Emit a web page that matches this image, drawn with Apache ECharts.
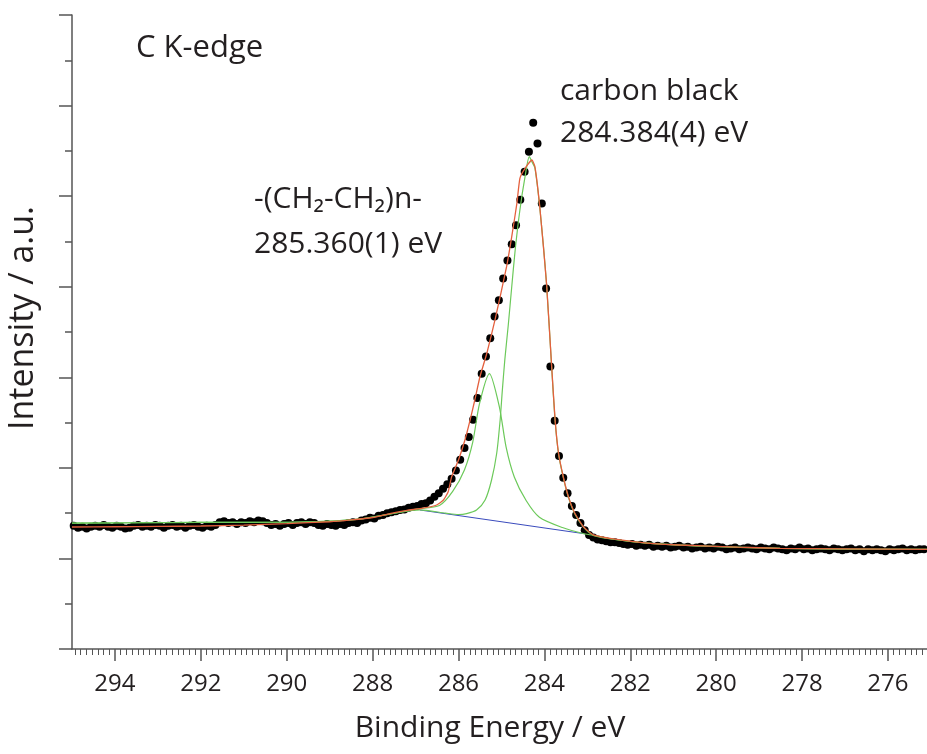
<!DOCTYPE html>
<html>
<head>
<meta charset="utf-8">
<script src="https://cdn.jsdelivr.net/npm/echarts@6/dist/echarts.min.js"></script>
<style>
html,body{margin:0;padding:0;background:#fff;}
#chart{width:927px;height:754px;}
</style>
</head>
<body>
<div id="chart"></div>
<script>
// ---- measured data (binding energy in eV, intensity in a.u.) ----
const highEnergyE = [294.96,294.86,294.76,294.66,294.56,294.46,294.36,294.26,294.16,294.06,
293.96,293.86,293.76,293.66,293.56,293.46,293.36,293.26,293.16,293.06,
292.96,292.86,292.76,292.66,292.56,292.46,292.36,292.26,292.16,292.06,
291.96,291.86,291.76,291.66,291.56,291.46,291.36,291.26,291.16,291.06,
290.96,290.86,290.76,290.66,290.56,290.46,290.36,290.26,290.16,290.06,
289.96,289.86,289.76,289.66,289.56,289.46,289.36,289.26,289.16,289.06,
288.96,288.86,288.76,288.66,288.56,288.46,288.36,288.26,288.16,288.06,
287.96,287.86,287.76,287.66,287.56,287.46,287.36,287.26,287.16,287.06];
const highEnergyI = [1.36,1.34,1.35,1.33,1.35,1.36,1.35,1.37,1.35,1.34,
1.36,1.35,1.33,1.34,1.36,1.37,1.35,1.36,1.35,1.37,
1.36,1.34,1.36,1.37,1.35,1.36,1.34,1.36,1.37,1.35,
1.34,1.36,1.35,1.37,1.40,1.41,1.39,1.40,1.38,1.40,
1.39,1.41,1.40,1.42,1.41,1.39,1.37,1.38,1.36,1.38,
1.39,1.37,1.39,1.40,1.38,1.40,1.39,1.37,1.36,1.38,
1.37,1.36,1.38,1.37,1.39,1.40,1.39,1.42,1.43,1.45,
1.44,1.47,1.48,1.50,1.51,1.52,1.535,1.54,1.56,1.57];
const peakRegionE = [286.96,286.86,286.76,286.66,286.56,286.46,286.36,286.26,286.16,286.06,
285.96,285.86,285.76,285.66,285.56,285.46,285.36,285.26,285.16,285.06,
284.96,284.86,284.76,284.66,284.56,284.46,284.36,284.26,284.16,284.06,
283.96,283.86,283.76,283.66,283.56,283.46,283.36,283.26,283.16,283.06];
const peakRegionI = [1.58,1.60,1.61,1.64,1.68,1.72,1.77,1.82,1.88,1.97,
2.09,2.22,2.34,2.53,2.77,3.04,3.23,3.43,3.67,3.85,
4.09,4.29,4.47,4.68,4.96,5.27,5.49,5.81,5.58,4.92,
3.98,3.12,2.52,2.13,1.89,1.72,1.58,1.48,1.39,1.31];
const lowEnergyE = [282.96,282.86,282.76,282.66,282.56,282.46,282.36,282.26,282.16,282.06,
281.96,281.86,281.76,281.66,281.56,281.46,281.36,281.26,281.16,281.06,
280.96,280.86,280.76,280.66,280.56,280.46,280.36,280.26,280.16,280.06,
279.96,279.86,279.76,279.66,279.56,279.46,279.36,279.26,279.16,279.06,
278.96,278.86,278.76,278.66,278.56,278.46,278.36,278.26,278.16,278.06,
277.96,277.86,277.76,277.66,277.56,277.46,277.36,277.26,277.16,277.06,
276.96,276.86,276.76,276.66,276.56,276.46,276.36,276.26,276.16,276.06,
275.96,275.86,275.76,275.66,275.56,275.46,275.36,275.26,275.16];
const lowEnergyI = [1.26,1.23,1.21,1.20,1.19,1.18,1.18,1.17,1.16,1.15,
1.16,1.14,1.15,1.14,1.15,1.13,1.14,1.13,1.14,1.12,
1.13,1.14,1.12,1.13,1.11,1.12,1.13,1.11,1.12,1.11,
1.13,1.12,1.10,1.11,1.12,1.10,1.11,1.12,1.11,1.10,
1.12,1.11,1.10,1.12,1.11,1.10,1.09,1.11,1.10,1.12,
1.10,1.11,1.09,1.10,1.11,1.10,1.09,1.11,1.10,1.09,
1.10,1.11,1.09,1.10,1.08,1.10,1.09,1.10,1.09,1.08,
1.10,1.09,1.10,1.11,1.09,1.10,1.09,1.10,1.10];

// total fit (red)
const fitE = [295.0,294.0,293.0,292.0,291.0,290.0,289.0,288.5,288.0,287.6,287.2,286.83,286.51,286.35,286.24,286.16,286.0,
285.85,285.73,285.62,285.5,285.34,285.15,284.88,284.76,284.64,284.57,284.45,284.29,284.22,284.1,283.95,283.83,283.75,
283.67,283.56,283.44,283.29,283.09,282.86,282.4,281.61,280.84,279.5,278.51,277.0,275.09];
const fitI = [1.347,1.35,1.353,1.358,1.368,1.385,1.405,1.425,1.452,1.495,1.53,1.555,1.59,1.645,1.737,1.9,2.087,
2.308,2.528,2.749,3.006,3.265,3.633,4.221,4.552,4.921,5.197,5.307,5.399,5.325,4.847,4.038,3.117,2.528,
2.161,1.902,1.682,1.498,1.35,1.259,1.215,1.17,1.148,1.125,1.112,1.105,1.101];

// component 1: -(CH2-CH2)n- (green)
const comp1E = [295.0,292.0,289.7,288.3,287.36,286.98,286.444,286.135,285.862,285.669,285.513,285.28,285.047,284.891,
284.698,284.425,284.116,283.58,283.1,282.86,282.4,281.61,280.84,278.51,275.09];
const comp1I = [1.39,1.397,1.402,1.435,1.51,1.545,1.585,1.74,1.977,2.282,2.703,3.04,2.671,2.229,
1.897,1.64,1.455,1.341,1.275,1.255,1.212,1.168,1.146,1.11,1.10];

// component 2: carbon black (green)
const comp2E = [295.0,292.0,289.7,288.3,287.36,286.9,286.3,286.0,285.81,285.58,285.38,285.23,285.11,285.03,284.98,284.92,
284.84,284.76,284.68,284.57,284.45,284.35,284.29,284.22,284.1,283.95,283.83,283.75,283.67,283.56,283.44,283.29,283.09,
282.86,282.4,281.61,280.84,278.51,275.09];
const comp2I = [1.39,1.397,1.402,1.435,1.51,1.535,1.50,1.485,1.495,1.535,1.645,1.866,2.161,2.528,2.85,3.2,
3.58,4.0,4.405,4.847,5.215,5.436,5.38,5.31,4.84,4.03,3.11,2.52,2.155,1.895,1.675,1.49,1.345,
1.255,1.212,1.168,1.146,1.11,1.10];

// background (blue)
const backgroundE = [286.9,283.1];
const backgroundI = [1.535,1.275];

const xTickValues = [294,292,290,288,286,284,282,280,278,276];

// ---- build ----
const zip = (a, b) => a.map((v, i) => [v, b[i]]);
const points = zip(highEnergyE, highEnergyI).concat(zip(peakRegionE, peakRegionI), zip(lowEnergyE, lowEnergyI));

const FONT = '"Open Sans", "DejaVu Sans", sans-serif';
const TXT = '#231f20';
const AX = '#555555';

const chart = echarts.init(document.getElementById('chart'), null, {renderer: 'canvas'});
chart.setOption({
  animation: false,
  backgroundColor: '#ffffff',
  grid: {left: 72, right: 0, top: 15, bottom: 105, containLabel: false, outerBoundsMode: 'none'},
  xAxis: {
    type: 'value', inverse: true, min: 275.09, max: 295,
    splitNumber: 10, minInterval: 2, maxInterval: 2,
    axisLine: {show: true, lineStyle: {color: AX, width: 1.5}},
    axisTick: {show: true, length: 12, inside: false, lineStyle: {color: AX, width: 1.5}, customValues: xTickValues},
    minorTick: {show: true, splitNumber: 15, length: 6, lineStyle: {color: AX, width: 1}},
    axisLabel: {show: true, customValues: xTickValues, margin: 23, fontSize: 24, fontFamily: FONT, color: TXT},
    splitLine: {show: false}, minorSplitLine: {show: false}
  },
  yAxis: {
    type: 'value', min: 0, max: 7, interval: 1,
    axisLine: {show: true, lineStyle: {color: AX, width: 1.5}},
    axisTick: {show: true, length: 13, inside: false, lineStyle: {color: AX, width: 1.5}},
    minorTick: {show: true, splitNumber: 2, length: 7, lineStyle: {color: AX, width: 1.5}},
    axisLabel: {show: false},
    splitLine: {show: false}
  },
  graphic: [
    {type: 'text', x: 136, y: 48, style: {text: 'C K-edge', fill: TXT, fontSize: 31, fontFamily: FONT, verticalAlign: 'middle'}},
    {type: 'text', x: 560, y: 91, style: {text: 'carbon black', fill: TXT, fontSize: 30, fontFamily: FONT, verticalAlign: 'middle'}},
    {type: 'text', x: 560, y: 133, style: {text: '284.384(4) eV', fill: TXT, fontSize: 30, fontFamily: FONT, verticalAlign: 'middle'}},
    {type: 'text', x: 254, y: 199, style: {text: '-(CH₂-CH₂)n-', fill: TXT, fontSize: 30, fontFamily: FONT, verticalAlign: 'middle'}},
    {type: 'text', x: 254, y: 244, style: {text: '285.360(1) eV', fill: TXT, fontSize: 30, fontFamily: FONT, verticalAlign: 'middle'}},
    {type: 'text', x: 490, y: 728, style: {text: 'Binding Energy / eV', fill: TXT, fontSize: 30, fontFamily: FONT, align: 'center', verticalAlign: 'middle'}},
    {type: 'text', x: 23, y: 318, rotation: Math.PI / 2, style: {text: 'Intensity / a.u.', fill: TXT, fontSize: 34, fontFamily: FONT, align: 'center', verticalAlign: 'middle'}}
  ],
  series: [
    {type: 'scatter', name: 'data', data: points, symbol: 'circle', symbolSize: 8, itemStyle: {color: '#000000', opacity: 1}, z: 2, silent: true},
    {type: 'line', name: 'background', data: zip(backgroundE, backgroundI), showSymbol: false, lineStyle: {color: '#3a4bbd', width: 1}, z: 3},
    {type: 'line', name: 'CH2', data: zip(comp1E, comp1I), showSymbol: false, smooth: 0.25, lineStyle: {color: '#6cc95a', width: 1.2}, z: 4},
    {type: 'line', name: 'carbon black', data: zip(comp2E, comp2I), showSymbol: false, smooth: 0.25, lineStyle: {color: '#6cc95a', width: 1.2}, z: 4},
    {type: 'line', name: 'fit', data: zip(fitE, fitI), showSymbol: false, smooth: 0.15, lineStyle: {color: '#e4603e', width: 1.3}, z: 5}
  ]
});
</script>
</body>
</html>
